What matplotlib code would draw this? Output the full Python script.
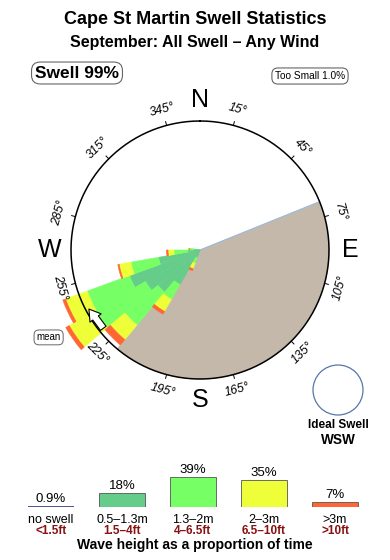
import numpy as np
import matplotlib
matplotlib.use('Agg')
import matplotlib.pyplot as plt
from matplotlib.patches import Circle

plt.rcParams['font.family'] = ['Liberation Sans', 'DejaVu Sans']

# --- datos ---
titulo = 'Cape St Martin Swell Statistics'
subtitulo = 'September: All Swell – Any Wind'

# direcciones (centro de cada sector de 10 grados)
dirs = [205, 215, 225, 235, 245, 255, 265, 275]
# radios acumulados (1.0 = circulo) de cada banda de altura
r_05_13 = [0.062, 0.310, 0.426, 0.488, 0.581, 0.326, 0.093, 0.047]
r_13_2 = [0.109, 0.442, 0.760, 0.938, 0.930, 0.543, 0.202, 0.085]
r_2_3 = [0.155, 0.550, 0.907, 1.171, 1.109, 0.636, 0.248, 0.085]
r_3 = [0.171, 0.574, 0.961, 1.202, 1.132, 0.647, 0.260, 0.085]

land_from, land_to = 68, 220   # tierra (sin swell)
mean_dir = 237
deg_ticks = [15, 45, 75, 105, 135, 165, 195, 225, 255, 285, 315, 345]

leg_m = ['no swell', '0.5–1.3m', '1.3–2m', '2–3m', '>3m']
leg_ft = ['<1.5ft', '1.5–4ft', '4–6.5ft', '6.5–10ft', '>10ft']
leg_pct = [0.9, 18, 39, 35, 7]
leg_txt = ['0.9%', '18%', '39%', '35%', '7%']

c_dark = '#66CC8A'
c_light = '#77FF66'
c_yel = '#EEFF3A'
c_ora = '#FF6633'
c_land = '#C4B8AA'
band_cols = ['#333388', c_dark, c_light, c_yel, c_ora]

W, H = 390, 560
fig = plt.figure(figsize=(3.9, 5.6), dpi=100)

# --- fondo en pixeles para textos ---
bg = fig.add_axes([0, 0, 1, 1])
bg.set_xlim(0, W)
bg.set_ylim(H, 0)
bg.axis('off')

bg.text(195, 19, titulo, ha='center', va='center', fontsize=13, fontweight='bold')
bg.text(195, 42, subtitulo, ha='center', va='center', fontsize=11.5, fontweight='bold')
bg.text(77, 73, 'Swell 99%', ha='center', va='center', fontsize=12.5, fontweight='bold',
        bbox=dict(boxstyle='round,pad=0.2,rounding_size=0.5', fc='white', ec='#666666', lw=0.8))
bg.text(310, 76, 'Too Small 1.0%', ha='center', va='center', fontsize=7.3,
        bbox=dict(boxstyle='round,pad=0.3,rounding_size=0.6', fc='white', ec='#666666', lw=0.8))

bg.add_patch(Circle((338, 390), 25, fill=False, ec='#5577AA', lw=0.9))
bg.text(338, 425, 'Ideal Swell', ha='center', va='center', fontsize=8.5, fontweight='bold')
bg.text(338, 440, 'WSW', ha='center', va='center', fontsize=9.8, fontweight='bold')
bg.text(195, 545, 'Wave height as a proportion of time', ha='center', va='center',
        fontsize=10, fontweight='bold')

# --- rosa de swell ---
cx, cy, R = 200, 250, 129
rmax = 1.25
ax = fig.add_axes([(cx - R * rmax) / W, (H - cy - R * rmax) / H,
                   2 * R * rmax / W, 2 * R * rmax / H], projection='polar')
ax.set_theta_zero_location('N')
ax.set_theta_direction(-1)
ax.set_ylim(0, rmax)
ax.set_axis_off()

th = np.deg2rad(dirs)
wd = np.deg2rad(10)

ax.bar(np.deg2rad((land_from + land_to) / 2), 1.0, width=np.deg2rad(land_to - land_from),
       color=c_land, edgecolor=c_land, lw=0.4, zorder=1)
ax.plot([np.deg2rad(land_from)] * 2, [0, 1], color='#9ABBDD', lw=0.8, zorder=1.5)

prev = np.zeros(len(dirs))
for r_out, col in zip([r_05_13, r_13_2, r_2_3, r_3], [c_dark, c_light, c_yel, c_ora]):
    r_out = np.array(r_out)
    ax.bar(th, r_out - prev, width=wd, bottom=prev, color=col, edgecolor=col, lw=0.4, zorder=2)
    prev = r_out

circ = np.linspace(0, 2 * np.pi, 400)
ax.plot(circ, np.ones_like(circ), color='black', lw=1.1, zorder=4)

for b in deg_ticks:
    t = np.deg2rad(b)
    ax.plot([t, t], [1.0, 1.03], color='black', lw=0.7, zorder=4)
    rot = -b if (b < 90 or b > 270) else 180 - b
    ax.text(t, 1.125, f'{b}°', rotation=rot, rotation_mode='anchor', ha='center',
            va='center', fontsize=8.8, style='italic')

for lab, b in zip(['N', 'E', 'S', 'W'], [0, 90, 180, 270]):
    ax.text(np.deg2rad(b), 1.163, lab, ha='center', va='center', fontsize=18)

ax.annotate('', xy=(np.deg2rad(mean_dir + 5), 0.975), xytext=(np.deg2rad(mean_dir - 6), 0.965),
            arrowprops=dict(arrowstyle='simple,head_length=0.8,head_width=1.0,tail_width=0.5',
                            fc='white', ec='black', lw=0.8, shrinkA=0, shrinkB=0,
                            mutation_scale=10), zorder=5)
ax.text(np.deg2rad(240), 1.355, 'mean', ha='center', va='center', fontsize=7,
        bbox=dict(boxstyle='round,pad=0.25,rounding_size=0.5', fc='white', ec='#666666', lw=0.7))

# --- leyenda de alturas ---
base_y = 507.3
px_per_pct = 0.77
ymax = 50
lg = fig.add_axes([15.5 / W, (H - base_y) / H, 355 / W, ymax * px_per_pct / H])
lg.set_xlim(-0.5, 4.5)
lg.set_ylim(0, ymax)
lg.axis('off')
xs = np.arange(len(leg_pct))
lg.bar(xs, leg_pct, width=0.64, color=band_cols, edgecolor=['#333388'] + ['#555555'] * 4,
       lw=[1.2, 0.6, 0.6, 0.6, 0.6])
for x, p, t, m, f in zip(xs, leg_pct, leg_txt, leg_m, leg_ft):
    lg.annotate(t, xy=(x, p), xytext=(0, 3), textcoords='offset points', ha='center',
                va='baseline', fontsize=9.5, annotation_clip=False)
    lg.annotate(m, xy=(x, 0), xytext=(0, -11), textcoords='offset points', ha='center',
                va='baseline', fontsize=9, annotation_clip=False)
    lg.annotate(f, xy=(x, 0), xytext=(0, -19), textcoords='offset points', ha='center',
                va='baseline', fontsize=8.5, fontweight='bold', color='#881111',
                annotation_clip=False)

fig.savefig('out.png', dpi=100)
